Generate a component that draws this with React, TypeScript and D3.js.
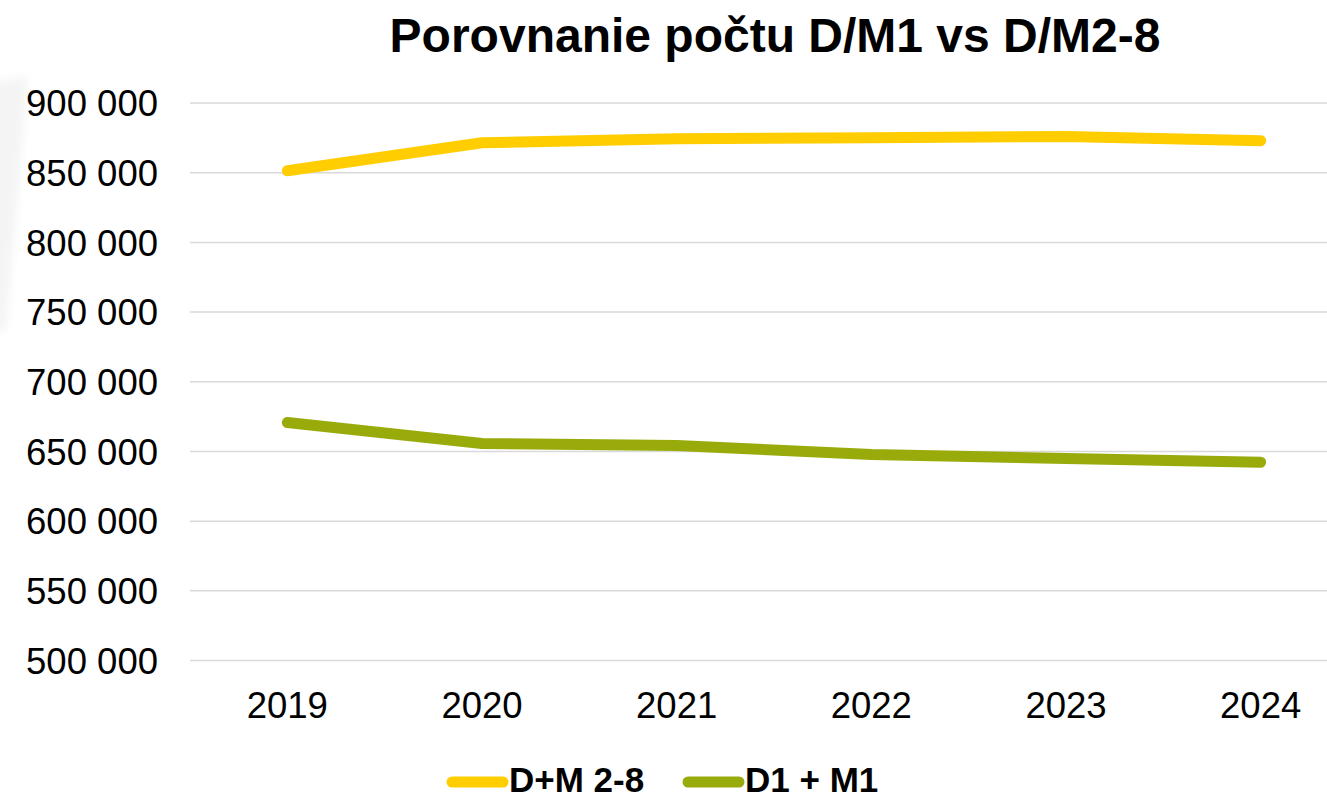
import React from "react";
import * as d3 from "d3";

const years = ["2019", "2020", "2021", "2022", "2023", "2024"];
const seriesDM28 = [851400, 871500, 874400, 875100, 876000, 873000];
const seriesD1M1 = [670800, 655700, 654300, 647800, 645000, 642300];
const yTicks = [500000, 550000, 600000, 650000, 700000, 750000, 800000, 850000, 900000];
const seriesNames = ["D+M 2-8", "D1 + M1"];
const seriesColors = ["#FFCD00", "#98AB0B"];

const W = 1327;
const H = 800;
const FONT = "'Liberation Sans', Arial, sans-serif";

export default function App() {
  const x = d3.scaleBand<string>().domain(years).range([190, 1358]);
  const y = d3.scaleLinear().domain([500000, 900000]).range([660.5, 103]);
  const fmt = (v: number) => d3.format(",")(v).replace(/,/g, " ");
  const line = d3
    .line<number>()
    .x((_, i) => (x(years[i]) as number) + x.bandwidth() / 2)
    .y((d) => y(d));
  const series = [seriesDM28, seriesD1M1];

  return (
    <svg
      width={W}
      height={H}
      style={{ position: "absolute", left: 0, top: 0, background: "#fff" }}
    >
      <defs>
        <filter id="blur" x="-50%" y="-50%" width="200%" height="200%">
          <feGaussianBlur stdDeviation="4" />
        </filter>
      </defs>
      <polygon points="-10,84 28,76 6,330 -10,335" fill="#f4f4f4" filter="url(#blur)" />
      <text
        x={775}
        y={52}
        textAnchor="middle"
        fontFamily={FONT}
        fontWeight="bold"
        fontSize={48}
        fill="#000"
      >
        Porovnanie počtu D/M1 vs D/M2-8
      </text>
      {yTicks.map((t) => (
        <g key={t}>
          <line x1={190} x2={W} y1={y(t)} y2={y(t)} stroke="#d9d9d9" strokeWidth={1.5} />
          <text
            x={158}
            y={y(t)}
            dy="0.36em"
            textAnchor="end"
            fontFamily={FONT}
            fontSize={36.5}
            fill="#000"
          >
            {fmt(t)}
          </text>
        </g>
      ))}
      {years.map((yr) => (
        <text
          key={yr}
          x={(x(yr) as number) + x.bandwidth() / 2}
          y={718}
          textAnchor="middle"
          fontFamily={FONT}
          fontSize={36.5}
          fill="#000"
        >
          {yr}
        </text>
      ))}
      {series.map((s, i) => (
        <path
          key={i}
          d={line(s) || ""}
          fill="none"
          stroke={seriesColors[i]}
          strokeWidth={11}
          strokeLinecap="round"
          strokeLinejoin="round"
        />
      ))}
      {seriesNames.map((n, i) => {
        const lx = i === 0 ? 452 : 688;
        return (
          <g key={n}>
            <line
              x1={lx}
              x2={lx + 51}
              y1={782}
              y2={782}
              stroke={seriesColors[i]}
              strokeWidth={11}
              strokeLinecap="round"
            />
            <text
              x={lx + 57}
              y={792}
              fontFamily={FONT}
              fontWeight="bold"
              fontSize={35}
              fill="#000"
            >
              {n}
            </text>
          </g>
        );
      })}
    </svg>
  );
}
